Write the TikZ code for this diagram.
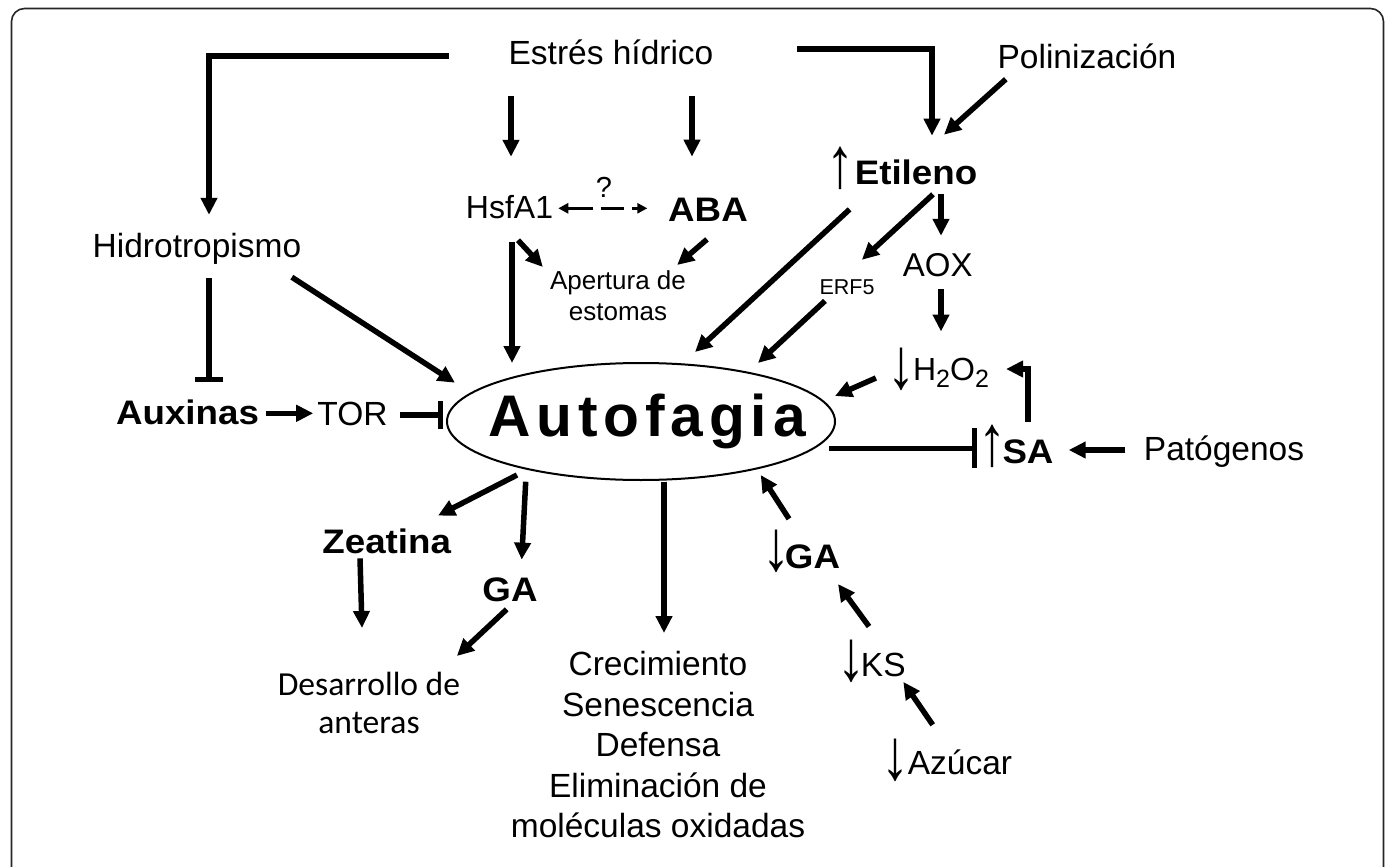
\documentclass[tikz,border=0pt]{standalone}
\usepackage{fontspec}
\setmainfont{Liberation Sans}
\newfontfamily\boldstretch[FakeStretch=1.08]{Liberation Sans}
\newfontfamily\autofont[LetterSpace=10]{Liberation Sans}
\newfontfamily\calib{Carlito}
\usetikzlibrary{arrows.meta,shapes.geometric}
\newcommand{\tallglyph}[1]{\makebox[8pt]{\scalebox{0.7}[0.9]{#1}}}
\tikzset{
  lbl/.style={inner sep=0pt, text height=24pt, text depth=0pt, font=\fontsize{33.5}{40.5}\selectfont},
  blbl/.style={inner sep=0pt, text height=24.3pt, text depth=0pt, font=\boldstretch\bfseries\fontsize{34}{40}\selectfont},
  glyph/.style={inner sep=0pt, font=\fontsize{80}{90}\selectfont},
  arr/.style={line width=5.5pt, -{Triangle[width=16pt,length=17pt]}},
  inh/.style={line width=5.5pt, -{Bar[width=28pt]}},
  dasharr/.style={line width=2.5pt, {Triangle[width=10pt,length=10pt]}-{Triangle[width=10pt,length=10pt]}, dash pattern=on 25pt off 8pt on 23pt off 8pt},
}
\begin{document}
\begin{tikzpicture}[x=1pt,y=-1pt]
\useasboundingbox (0,0) rectangle (1387,867);
\clip (0,0) rectangle (1387,867);
\draw[black!85, line width=1.6pt, rounded corners=13pt] (11.5,8.5) rectangle (1383.5,890);

% ---- nodes ----
\node[lbl] (estres) at (611,52) {Estrés hídrico};
\node[lbl] (polin) at (1087,57) {Polinización};
\node[lbl] (hidro) at (197,245) {Hidrotropismo};
\node[glyph] (etilup) at (840,168.5) {\tallglyph{↑}};
\node[blbl] (etil) at (916,172) {Etileno};
\node[lbl, text height=23pt, font=\fontsize{32}{38}\selectfont] (hsf) at (509.5,207) {HsfA1};
\node[inner sep=0pt, font=\fontsize{29}{34}\selectfont] (q) at (604,187) {?};
\node[blbl] (aba) at (708,209) {ABA};
\node[inner sep=0pt, anchor=north, align=center, font=\fontsize{26}{31}\selectfont] (apert) at (618,270) {Apertura de\\estomas};
\node[lbl, text height=23.6pt, font=\fontsize{33}{39}\selectfont] (aox) at (937.7,265) {AOX};
\node[lbl, text height=15.4pt, font=\fontsize{21.5}{26}\selectfont] (erf) at (847,287) {ERF5};
\node[glyph] (h2down) at (901,369) {\tallglyph{↓}};
\node[lbl, text height=23pt, font=\fontsize{32}{38}\selectfont] (h2o2) at (951,369) {H\raisebox{-7pt}{\fontsize{25}{25}\selectfont 2}O\raisebox{-7pt}{\fontsize{25}{25}\selectfont 2}};
\node[glyph] (saup) at (992,446.7) {\tallglyph{↑}};
\node[blbl] (sa) at (1028,451.5) {SA};
\node[lbl] (patog) at (1224,448) {Patógenos};
\node[ellipse, draw, line width=2pt, minimum width=388pt, minimum height=117pt, inner sep=0pt] (auto) at (641,421.5)
  {\raisebox{3pt}{\makebox[0pt]{\hspace{12pt}\autofont\bfseries\fontsize{58.7}{60}\selectfont Autofagia}}};
\node[blbl] (aux) at (187.5,412) {Auxinas};
\node[lbl] (tor) at (352.5,413) {TOR};
\node[blbl] (zea) at (386.7,541) {Zeatina};
\node[blbl] (ga1) at (510,589) {GA};
\node[inner sep=0pt, anchor=north, align=center, font=\calib\fontsize{33.6}{38}\selectfont] (desarr) at (369,672) {Desarrollo de\\anteras};
\node[inner sep=0pt, anchor=north, align=center, font=\fontsize{33.5}{40.5}\selectfont] (crec) at (658,651.5) {Crecimiento\\Senescencia\\Defensa\\Eliminación de\\moléculas oxidadas};
\node[glyph] (ga2down) at (776,551) {\tallglyph{↓}};
\node[blbl] (ga2) at (812.5,556.7) {GA};
\node[glyph] (ksdown) at (851,661) {\tallglyph{↓}};
\node[lbl] (ks) at (883.3,664) {KS};
\node[glyph] (azudown) at (895,760.5) {\tallglyph{↓}};
\node[lbl] (azu) at (960,762) {Azúcar};

% ---- connectors ----
\draw[arr] ([shift={(-59.5,4)}]estres.west) -| ([shift={(12,-18)}]hidro.north);
\draw[arr] ([shift={(83.5,-3)}]estres.east) -| ([shift={(16,-24)}]etil.north);
\draw[arr] ([shift={(8.4,10)}]polin.south west) -- ([shift={(28,-25)}]etil.north);
\draw[arr] ([shift={(-100,32)}]estres.south) -- ([shift={(1.5,-38.5)}]hsf.north);
\draw[arr] ([shift={(81,32)}]estres.south) -- ([shift={(-16,-40)}]aba.north);
\draw[dasharr] ([shift={(5,1.3)}]hsf.east) -- ([shift={(-20.7,-0.7)}]aba.west);
\draw[arr] ([shift={(8.5,21.5)}]hsf.south) -- ([shift={(-7,-3)}]apert.north west);
\draw[arr] ([shift={(-1,18)}]aba.south) -- ([shift={(-9,-5)}]apert.north east);
\draw[arr] ([shift={(2.5,23.5)}]hsf.south) -- ([shift={(-129,1)}]auto.north);
\draw[arr] ([shift={(-5,25)}]etil.south west) -- ([shift={(54,-10)}]auto.north);
\draw[arr] ([shift={(17,10)}]etil.south) -- ([shift={(-12.8,-19.3)}]erf.north east);
\draw[arr] ([shift={(25,10)}]etil.south) -- ([shift={(3.3,-17.2)}]aox.north);
\draw[arr] ([shift={(-22,6)}]erf.south) -- ([shift={(117,1)}]auto.north);
\draw[arr] ([shift={(3.3,12.2)}]aox.south) -- ([shift={(-10,-25.8)}]h2o2.north);
\draw[arr] ([shift={(-37,9)}]h2o2.west) -- ([shift={(-1,-25.5)}]auto.east);
\draw[arr] ([shift={(0,-17.6)}]sa.north) |- ([shift={(17,0)}]h2o2.east);
\draw[inh, -{Bar[width=40pt]}] ([shift={(-7,26.8)}]auto.east) -- ([shift={(-25,-3.2)}]sa.west);
\draw[arr] ([shift={(-18.3,2)}]patog.west) -- ([shift={(15,-1.5)}]sa.east);
\draw[arr] ([shift={(-9.6,20)}]hidro.south east) -- ([shift={(9,-38.8)}]auto.west);
\draw[inh] ([shift={(12,21)}]hidro.south) -- ([shift={(21.5,-17.5)}]aux.north);
\draw[arr] ([shift={(7,1.3)}]aux.east) -- ([shift={(-4,0.3)}]tor.west);
\draw[inh] ([shift={(12,2)}]tor.east) -- ([shift={(-3,-6.5)}]auto.west);
\draw[arr] ([shift={(-124,-6)}]auto.south) -- ([shift={(51.3,-13)}]zea.north);
\draw[arr] ([shift={(-115.3,0.7)}]auto.south) -- ([shift={(11.7,-17)}]ga1.north);
\draw[arr] ([shift={(-26.7,5)}]zea.south) -- ([shift={(-7,-44)}]desarr.north);
\draw[arr] ([shift={(-3.3,8)}]ga1.south) -- ([shift={(-3.5,-16)}]desarr.north east);
\draw[arr] ([shift={(23,0.7)}]auto.south) -- ([shift={(6,-18.5)}]crec.north);
\draw[arr] ([shift={(-23.5,-25.5)}]ga2.north) -- ([shift={(119.7,-6)}]auto.south);
\draw[arr] ([shift={(-14.3,-25.3)}]ks.north) -- ([shift={(25.5,15)}]ga2.south);
\draw[arr] ([shift={(-27.3,-25)}]azu.north) -- ([shift={(20,5.7)}]ks.south);
\end{tikzpicture}
\end{document}
